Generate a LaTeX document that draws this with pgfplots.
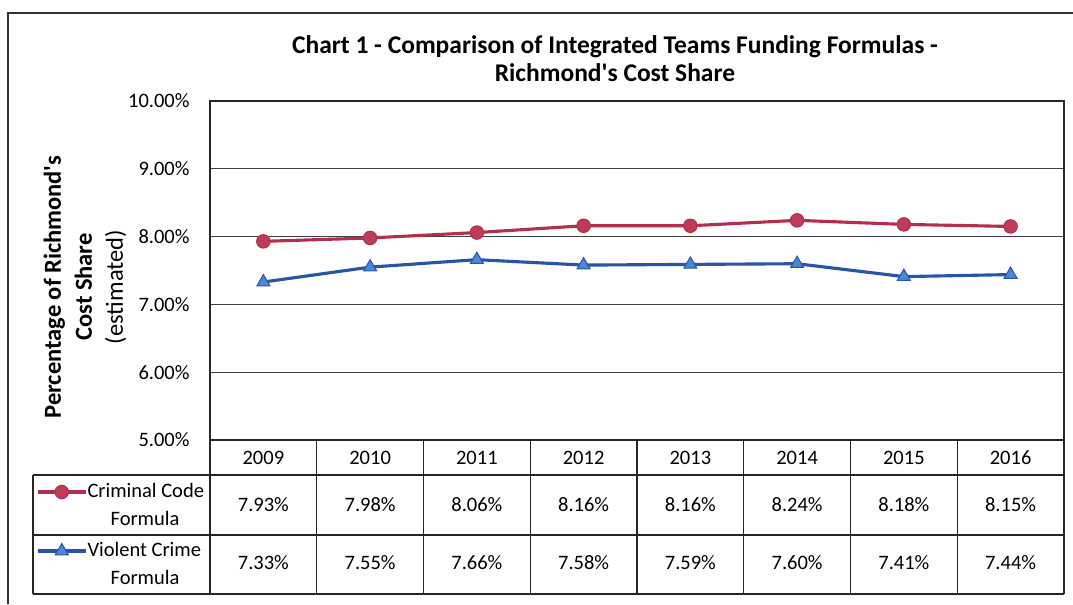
\documentclass[border=0pt]{standalone}
\usepackage{fontspec}
\setmainfont{Carlito}[Ligatures=TeXOff]
\usepackage{pgfplots}
\pgfplotsset{compat=1.18}
\usepackage{pgfplotstable}
\definecolor{ccred}{RGB}{178,48,78}
\definecolor{ccredfill}{RGB}{190,60,88}
\definecolor{vcblue}{RGB}{40,85,165}
\definecolor{vcbluefill}{RGB}{75,135,210}
\newcommand\regfont{\fontsize{8.2pt}{10pt}\selectfont}
\pgfplotstableread{
idx year cc vc
0 2009 7.93 7.33
1 2010 7.98 7.55
2 2011 8.06 7.66
3 2012 8.16 7.58
4 2013 8.16 7.59
5 2014 8.24 7.60
6 2015 8.18 7.41
7 2016 8.15 7.44
}\data
\begin{document}
\begin{tikzpicture}
\path[use as bounding box] (0,0) rectangle (429.2pt,-241.6pt);
\begin{axis}[
 at={(84pt,-176pt)}, anchor=south west,
 scale only axis, width=341.6pt, height=135.6pt,
 xmin=-0.5, xmax=7.5, ymin=5, ymax=10,
 clip=false,
 /pgf/number format/assume math mode=true,
 xtick={0,...,7},
 xticklabels={2009,2010,2011,2012,2013,2014,2015,2016},
 xticklabel style={anchor=center, yshift=-7pt, inner sep=0pt},
 ytick={5,6,7,8,9,10},
 yticklabel={\pgfmathprintnumber[fixed,fixed zerofill,precision=2]{\tick}\%},
 yticklabel style={anchor=east, inner sep=0pt, xshift=-8pt},
 tick label style={font=\regfont},
 major tick length=0pt,
 ymajorgrids, grid style={black!75, line width=0.5pt},
 axis line style={black!85, line width=0.6pt},
 legend style={at={(-0.007,-0.1239)}, anchor=north east, draw=none, fill=none,
   inner sep=0pt, outer sep=0pt, row sep=15.6pt,
   nodes={inner sep=0pt, text height=6pt, text depth=2pt, font=\regfont}},
 legend cell align=left,
 legend image code/.code={\draw[mark repeat=2,mark phase=2] plot coordinates {(0cm,0cm) (0.34cm,0cm) (0.68cm,0cm)};},
]
\addplot[ccred, line width=1.25pt, mark=*, mark size=2.7pt, mark options={fill=ccredfill, draw=ccred, line width=0.4pt}] table[x=idx,y=cc]{\data};
\addlegendentry{Criminal Code}
\addplot[vcblue, line width=1.25pt, mark=triangle*, mark size=3pt, mark options={fill=vcbluefill, draw=vcblue, line width=0.4pt}] table[x=idx,y=vc]{\data};
\addlegendentry{Violent Crime}
\addplot[draw=none, mark=none, forget plot, point meta=explicit,
  nodes near coords={\pgfmathprintnumber[fixed,fixed zerofill,precision=2]{\pgfplotspointmeta}\%},
  every node near coord/.style={anchor=center, inner sep=0pt, font=\regfont, black}]
  table[x=idx, y expr=4.041, meta=cc]{\data};
\addplot[draw=none, mark=none, forget plot, point meta=explicit,
  nodes near coords={\pgfmathprintnumber[fixed,fixed zerofill,precision=2]{\pgfplotspointmeta}\%},
  every node near coord/.style={anchor=center, inner sep=0pt, font=\regfont, black}]
  table[x=idx, y expr=3.186, meta=vc]{\data};
\end{axis}
\begin{scope}[x=0.4pt,y=-0.4pt]
 \draw[black!80, line width=0.6pt] (8,604) -- (8,13) -- (1073,13);
 \node[font=\bfseries\fontsize{10.2pt}{11.2pt}\selectfont, align=center] at (615,59)
   {Chart 1 - Comparison of Integrated Teams Funding Formulas -\\Richmond's Cost Share};
 \node[rotate=90, align=center, font=\fontsize{9.8pt}{12.4pt}\selectfont] at (85,287)
   {\textbf{Percentage of Richmond's}\\\textbf{Cost Share}\\(estimated)};
 \begin{scope}[black!85, line width=0.5pt]
 \draw (33,475) -- (1064,475);
 \draw (33,535) -- (1064,535);
 \draw (33,594) -- (1064,594);
 \draw (33,475) -- (33,594);
 \foreach \i in {0,...,8} \draw ({210+106.75*\i},440) -- ({210+106.75*\i},594);
 \end{scope}
 \node[anchor=center, inner sep=0pt, font=\regfont] at (145,518) {Formula};
 \node[anchor=center, inner sep=0pt, font=\regfont] at (145,577) {Formula};
\end{scope}
\end{tikzpicture}
\end{document}
